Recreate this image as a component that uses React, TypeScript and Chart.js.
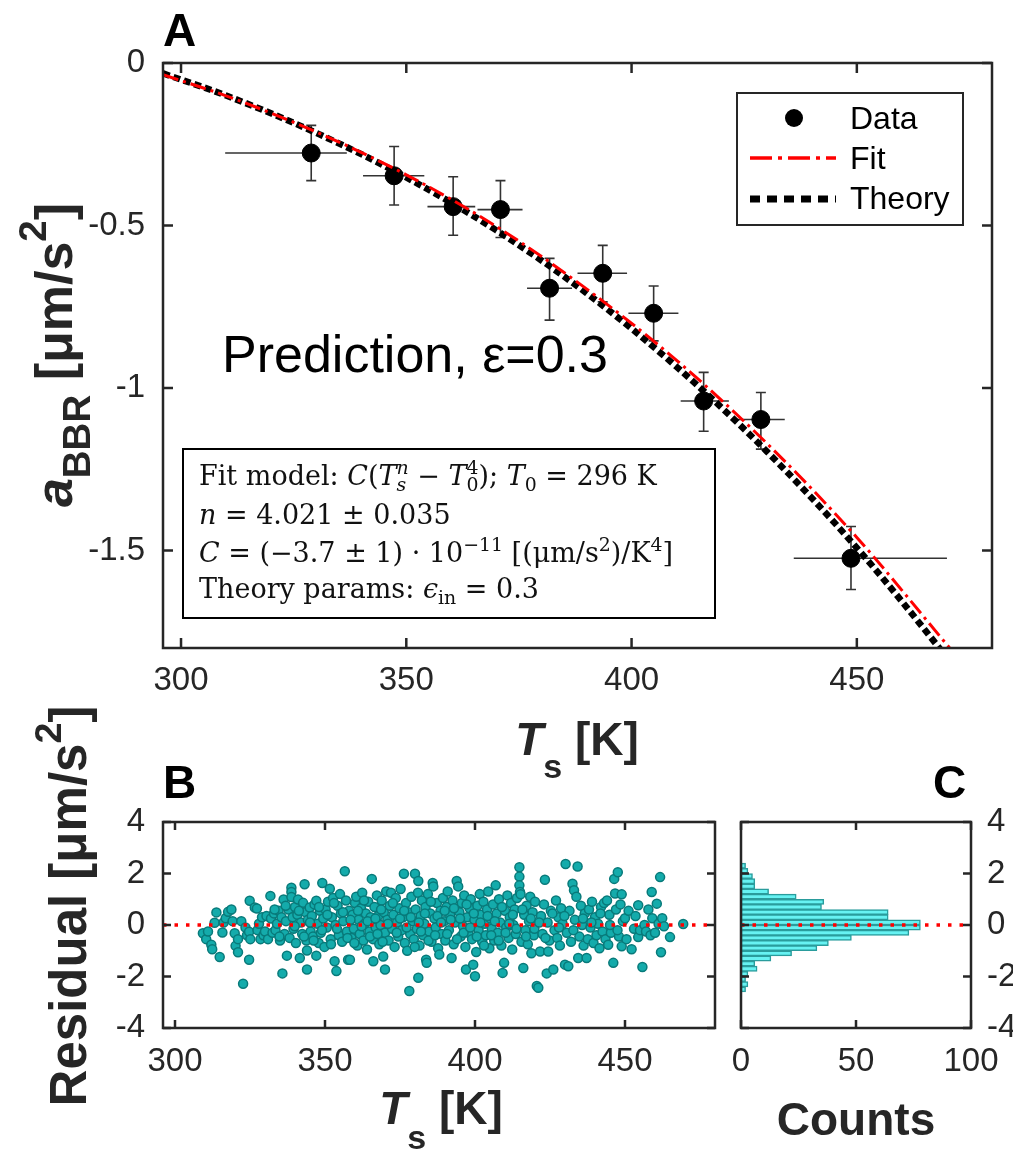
import React, { useEffect, useRef } from 'react';
import { Chart, registerables } from 'chart.js';
Chart.register(...registerables);

const W = 1013;
const H = 1159;
const SANS = '"Liberation Sans", Arial, Helvetica, sans-serif';
const SERIF = '"DejaVu Serif", "Liberation Serif", "Times New Roman", serif';
const AX = '#262626';

// ---------------- Panel A data ----------------
const dataT = [328.9, 347.3, 360.4, 370.9, 381.8, 393.6, 404.9, 416.0, 428.7, 448.7];
const dataV = [-0.277, -0.347, -0.442, -0.451, -0.693, -0.647, -0.770, -1.040, -1.097, -1.524];
const dataTLo = [309.8, 340.4, 354.7, 365.8, 376.8, 388.0, 399.3, 410.9, 423.5, 436.0];
const dataTHi = [336.8, 354.0, 365.3, 375.8, 386.8, 399.0, 410.4, 421.6, 434.0, 470.0];
const dataVLo = [-0.362, -0.437, -0.530, -0.537, -0.791, -0.735, -0.855, -1.133, -1.188, -1.620];
const dataVHi = [-0.192, -0.257, -0.350, -0.362, -0.601, -0.561, -0.686, -0.952, -1.014, -1.426];

const fitT = [296, 310, 330, 350, 370, 390, 410, 430, 450, 470, 476];
const fitV = [-0.036, -0.101, -0.212, -0.344, -0.503, -0.695, -0.915, -1.170, -1.460, -1.790, -1.89];
const theoryT = [296, 310, 330, 350, 370, 390, 410, 430, 450, 470, 476];
const theoryV = [-0.032, -0.100, -0.215, -0.352, -0.515, -0.708, -0.935, -1.195, -1.492, -1.830, -1.94];

const tickAX = [300, 350, 400, 450];
const tickAY = [-1.5, -1, -0.5, 0];

// ---------------- Panel B data ----------------
const residualPoints: [number, number][] = [
  [309.3,-0.32],[310.4,-0.55],[311.0,-0.25],[312.1,-0.77],[312.4,-0.94],[313.2,0.09],[313.8,0.49],[314.9,-1.24],[315.8,-0.29],[316.2,0.10],
  [316.9,0.26],[317.7,0.51],[318.8,0.60],[319.2,0.15],[319.9,-0.32],[320.2,-0.81],[321.0,-0.55],[321.0,-1.06],[322.1,0.15],[322.7,-2.28],
  [323.5,-0.10],[324.0,-0.40],[324.7,-1.35],[324.7,-0.26],[324.9,0.94],[325.1,-0.55],[326.6,0.68],[327.3,0.64],[327.5,-0.20],[328.0,0.05],
  [328.5,-0.55],[329.0,0.30],[329.5,-0.40],[330.0,-0.25],
  [330.5,0.35],[331.0,-0.55],[331.8,1.13],[332.0,0.25],[332.5,-0.30],[333.0,0.45],[333.5,-0.20],[334.0,0.05],[334.5,0.55],[335.0,-0.60],
  [335.5,0.30],[335.8,-1.88],[336.2,0.99],[336.5,-0.35],[337.0,0.15],[337.3,-1.19],[337.8,0.60],[338.2,-0.50],[338.8,1.45],[338.8,1.28],
  [338.8,1.09],[339.2,0.30],[339.5,-0.15],[340.0,0.70],[340.3,-0.70],[340.8,0.40],[341.0,0.99],[341.6,-1.28],[342.0,0.10],[342.4,-0.35],
  [342.7,0.86],[343.2,1.58],[343.5,0.50],[343.8,-0.60],[344.0,-0.99],[344.0,-1.73],[344.3,0.20],[344.9,0.68],[345.2,-0.25],[345.6,0.35],
  [346.0,-0.45],[346.5,0.80],[347.1,0.94],[347.1,-1.19],[347.5,0.05],[347.9,-0.70],[348.3,0.55],[348.6,-0.30],[349.1,1.63],[349.4,0.25],
  [349.8,-0.85],[350.2,0.60],[350.6,-0.10],[351.0,0.90],[351.6,1.41],[351.9,-0.55],[352.3,0.30],[352.7,1.05],[353.2,-1.41],[353.5,0.00],
  [353.8,-1.79],[354.2,0.75],[354.6,-0.40],[355.0,1.20],[355.3,0.45],[355.7,-0.65],[356.1,0.15],[356.6,2.09],[357.0,0.95],[357.3,-0.25],
  [357.7,-1.35],[358.0,0.55],
  [358.3,-1.35],[358.8,-0.50],[359.2,0.40],[359.6,-0.15],[360.0,0.85],[360.4,1.10],[360.8,-0.80],[361.2,0.20],[361.6,-0.35],[362.0,0.65],
  [362.4,1.25],[362.8,-0.60],[363.2,0.05],[363.6,0.45],[364.0,-0.95],[364.4,0.90],[364.8,-0.25],[365.2,0.30],[365.6,1.79],[366.0,-0.55],
  [366.1,-1.41],[366.5,0.70],[366.9,-0.10],[367.3,1.15],[367.7,0.35],[368.1,-0.75],[368.5,0.00],[368.9,0.95],[369.4,-1.22],[369.6,0.50],
  [370.0,-1.73],[370.0,-0.30],[370.4,1.30],[370.8,0.20],[371.2,-0.60],[371.6,0.75],[372.0,1.25],[372.4,-0.15],[372.8,0.40],[373.2,-0.85],
  [373.6,1.05],[374.0,0.10],[374.4,-0.45],[374.8,0.65],[375.2,1.40],[375.6,-0.20],[376.0,0.30],[376.3,1.99],[376.6,-0.70],[377.0,0.85],
  [377.4,-1.00],[377.8,0.50],[378.1,-2.56],[378.4,-0.35],[378.8,1.10],[379.2,0.15],[379.6,-0.55],[380.0,1.99],[380.2,0.60],[380.6,-0.15],
  [381.0,1.25],[381.1,1.71],[381.1,-2.05],[381.5,-0.80],[381.9,0.35],[382.3,0.95],[382.7,-0.40],[383.1,0.05],[383.5,0.70],[383.7,-1.35],
  [383.9,-1.47],[384.3,1.20],[384.7,-0.25],[385.1,0.45],[385.5,-0.65],[385.9,1.63],[386.1,1.50],[386.5,0.25],[386.9,-0.10],[387.3,0.85],
  [387.7,-0.90],[388.1,-1.15],[388.5,0.55],[388.9,-0.35],[389.3,1.05],[389.7,0.15],[390.1,-0.60],[390.5,0.70],[390.9,1.30],[391.3,-0.20],
  [391.7,0.40],[392.2,-1.28],[392.5,0.95],[392.9,-0.75],[393.3,0.10],[393.9,1.71],[394.4,1.50],[394.8,0.50],[395.2,-0.45],[395.6,0.85],
  [396.0,-0.05],[396.4,1.15],[396.8,-0.85],[397.0,-1.73],[397.4,0.30],[397.8,-0.30],[398.2,0.65],[398.6,1.00],[399.0,-0.55],[399.4,-1.54],
  [399.8,0.20],[400.0,-1.99],[400.4,-1.05],[400.8,0.75],[401.2,-0.20],[401.6,1.20],[402.0,0.40],[402.4,-0.65],[402.8,0.90],[403.2,0.05],
  [403.6,-0.40],[404.0,0.60],[404.4,1.30],[404.8,-0.90],[405.2,0.25],[405.6,-0.15],[406.0,0.80],[406.4,-0.60],[406.9,1.54],[407.2,0.45],
  [407.6,-0.30],[408.0,1.00],[408.4,0.10],[408.8,-0.80],[409.2,-1.86],[409.7,-1.47],[410.0,0.55],[410.4,-0.10],[410.8,1.15],[411.2,-0.50],
  [411.6,0.30],[412.0,0.85],[412.4,-0.95],[412.8,0.00],[413.2,0.60],[413.6,-0.35],[414.0,1.05],[414.8,2.24],[414.8,1.88],[414.8,1.54],
  [415.0,1.28],[415.2,1.19],[415.5,-0.65],[416.1,-1.67],[416.4,0.40],[416.8,-0.20],[417.2,0.75],[417.6,-0.75],[418.0,0.15],[418.4,1.10],
  [418.8,-1.10],[419.2,0.50],[419.6,-0.40],[420.0,0.90],[420.6,-2.37],
  [421.1,-2.44],[421.7,-1.03],[422.0,0.35],[422.5,-0.35],[423.0,0.80],[423.3,1.76],[423.9,-1.88],[424.2,0.10],[424.4,-1.03],[424.8,-0.60],
  [425.3,0.55],[426.1,-1.73],[426.5,-0.20],[427.0,0.95],[427.4,-0.50],[427.8,0.30],[428.3,-0.80],[428.7,0.65],[429.2,0.05],[430.0,-1.54],
  [430.2,2.37],[430.6,-0.30],[431.1,-1.60],[431.5,0.55],[432.0,-0.65],[432.5,1.60],[433.0,1.35],[433.3,0.20],[433.8,1.10],[434.2,2.27],
  [434.4,-1.28],[434.8,-0.45],[435.3,0.75],[435.7,0.00],[436.2,-0.80],[436.6,0.45],[437.2,-1.28],[437.6,-0.55],[438.0,0.60],[438.5,-0.10],
  [439.0,0.90],[439.5,-0.70],[440.0,0.30],[440.5,-0.40],[441.0,0.05],[441.5,-0.90],[442.0,0.70],[442.5,-0.25],[443.0,0.85],[443.5,-0.55],
  [444.0,0.95],[444.4,-0.77],[444.8,0.40],[445.3,-0.30],[446.1,-1.47],[446.4,1.79],[446.7,1.22],[447.0,0.60],[447.6,2.05],[448.0,-0.45],
  [448.5,0.80],[448.9,1.19],[448.9,-0.83],[449.3,0.15],[450.0,0.26],[450.5,-0.55],[451.2,0.55],[452.2,-0.94],[453.0,-0.15],[453.5,0.35],
  [454.4,0.77],[454.4,-0.47],[455.0,-0.20],[455.8,-1.63],[456.5,0.00],[457.0,-0.25],[457.8,0.60],[458.5,-0.40],[458.9,1.28],[459.1,0.26],
  [460.0,-0.30],[460.6,0.83],[461.2,0.05],[461.7,1.86],[462.0,-1.06],[462.4,0.26],[463.0,-0.05],[465.0,-0.47],[469.4,0.04],
  [333.2,0.60],[334.8,-0.45],[336.9,0.75],[339.9,-0.05],[341.3,0.55],[343.0,-0.45],[345.0,0.10],[346.2,-0.60],[348.0,0.70],[349.0,-0.20],
  [350.8,0.40],[352.0,-0.75],[353.0,0.85],[354.0,-0.15],[356.0,0.50],[357.5,-0.50],[358.5,0.20],[359.8,-0.70],[361.0,0.55],[362.2,-0.05],
  [363.0,0.95],[364.2,0.15],[365.0,-0.45],[366.8,0.25],[367.5,-0.35],[368.7,0.60],[369.2,-0.65],[371.0,0.05],[372.6,0.85],[373.9,-0.30],
  [375.0,0.25],[376.4,0.55],[377.2,-0.10],[378.6,0.30],[379.9,-0.85],[381.3,0.10],[382.0,-0.25],[383.3,0.45],[384.5,-0.60],[385.3,0.90],
  [386.7,-0.40],[387.5,0.35],[388.7,0.10],[389.9,0.55],[390.7,-0.35],[391.9,0.20],[393.0,0.65],[394.0,-0.55],[395.0,0.25],[396.2,-0.30],
  [397.2,0.80],[398.4,-0.10],[399.6,0.45],[400.6,-0.45],[401.8,0.10],[403.0,-0.80],[404.2,0.35],[405.4,-0.40],[406.6,0.15],[407.9,-0.60],
  [409.0,0.70],[410.2,-0.30],[411.4,0.05],[412.6,0.40],[413.8,-0.15],[415.8,0.60],[417.0,-0.45],[418.6,0.25],[419.8,-0.15],[421.4,0.10],
  [423.5,-0.50],[425.8,0.45],[428.0,-0.10],[429.8,0.35],[432.8,-0.20],[436.0,0.25],[438.8,0.10],[441.8,0.45],[445.0,0.00],[447.5,-0.20],
];
const zeroLineT = [296, 480];
const tickBX = [300, 350, 400, 450];
const tickBY = [-4, -2, 0, 2, 4];

// ---------------- Panel C data ----------------
const histCenters = [2.3, 2.1, 1.9, 1.7, 1.5, 1.3, 1.1, 0.9, 0.7, 0.5, 0.3, 0.1, -0.1, -0.3, -0.5, -0.7, -0.9, -1.1, -1.3, -1.5, -1.7, -1.9, -2.1, -2.3, -2.5];
const histCounts = [2, 3, 5, 6, 6, 12, 24, 36, 35, 64, 64, 78, 78, 73, 48, 38, 33, 22, 13, 6, 7, 3, 2, 3, 2];
const zeroLineCounts = [0, 100];
const tickCX = [0, 50, 100];

// ---------------- helpers ----------------
type Seg = { t: string; i?: boolean; sub?: string; sup?: string; subI?: boolean; supI?: boolean };
type RichOpts = { size: number; family: string; bold?: boolean; align?: 'left' | 'center'; rotate?: boolean; subScale?: number; subDy?: number; supDy?: number; color?: string };

function drawRich(ctx: CanvasRenderingContext2D, segs: Seg[], x: number, y: number, o: RichOpts) {
  const sc = o.subScale ?? 0.7;
  const small = o.size * sc;
  const f = (sz: number, it?: boolean) => `${it ? 'italic ' : ''}${o.bold ? 'bold ' : ''}${sz}px ${o.family}`;
  const widths: number[][] = [];
  let total = 0;
  for (const s of segs) {
    ctx.font = f(o.size, s.i);
    const w = ctx.measureText(s.t).width;
    let ws = 0, wp = 0;
    if (s.sub) { ctx.font = f(small, s.subI); ws = ctx.measureText(s.sub).width; }
    if (s.sup) { ctx.font = f(small, s.supI); wp = ctx.measureText(s.sup).width; }
    widths.push([w, Math.max(ws, wp)]);
    total += w + Math.max(ws, wp);
  }
  ctx.save();
  ctx.translate(x, y);
  if (o.rotate) ctx.rotate(-Math.PI / 2);
  ctx.fillStyle = o.color ?? '#000';
  ctx.textAlign = 'left';
  ctx.textBaseline = 'alphabetic';
  let cx = o.align === 'center' ? -total / 2 : 0;
  const subDy = (o.subDy ?? 0.22) * o.size;
  const supDy = (o.supDy ?? -0.42) * o.size;
  segs.forEach((s, k) => {
    const [w, ex] = widths[k];
    ctx.font = f(o.size, s.i);
    ctx.fillText(s.t, cx, 0);
    if (s.sub) { ctx.font = f(small, s.subI); ctx.fillText(s.sub, cx + w, subDy); }
    if (s.sup) { ctx.font = f(small, s.supI); ctx.fillText(s.sup, cx + w, supDy); }
    cx += w + ex;
  });
  ctx.restore();
}

function boxTicks(chart: Chart, len: number, lw: number) {
  const { ctx, chartArea: a } = chart;
  const sx: any = chart.scales.x;
  const sy: any = chart.scales.y;
  ctx.save();
  ctx.strokeStyle = AX;
  ctx.lineWidth = lw;
  ctx.setLineDash([]);
  ctx.beginPath();
  for (const t of sx.ticks) {
    const p = sx.getPixelForValue(t.value);
    ctx.moveTo(p, a.bottom); ctx.lineTo(p, a.bottom - len);
    ctx.moveTo(p, a.top); ctx.lineTo(p, a.top + len);
  }
  for (const t of sy.ticks) {
    const p = sy.getPixelForValue(t.value);
    ctx.moveTo(a.left, p); ctx.lineTo(a.left + len, p);
    ctx.moveTo(a.right, p); ctx.lineTo(a.right - len, p);
  }
  ctx.stroke();
  ctx.strokeRect(a.left, a.top, a.right - a.left, a.bottom - a.top);
  ctx.restore();
}

const tickFont = { family: SANS, size: 33 };
const pts = (xs: number[], ys: number[]) => xs.map((x, i) => ({ x, y: ys[i] }));

function xScale(min: number, max: number, ticks: number[], height: number, pad: number): any {
  return {
    type: 'linear', min, max,
    afterBuildTicks: (s: any) => { s.ticks = ticks.map((v) => ({ value: v })); },
    afterFit: (s: any) => { s.height = height; },
    grid: { display: false }, border: { display: false },
    ticks: { font: tickFont, color: AX, padding: pad, maxRotation: 0, autoSkip: false, callback: (v: any) => String(v) },
  };
}
function yScale(min: number, max: number, ticks: number[], width: number, pad: number, position = 'left'): any {
  return {
    type: 'linear', min, max, position, offset: false,
    afterBuildTicks: (s: any) => { s.ticks = ticks.map((v) => ({ value: v })); },
    afterFit: (s: any) => { s.width = width; },
    grid: { display: false, offset: false }, border: { display: false },
    ticks: { font: tickFont, color: AX, padding: pad, autoSkip: false, callback: (v: any) => String(v) },
  };
}

// ---------------- Panel A ----------------
function makeA(cv: HTMLCanvasElement) {
  const errPlugin = {
    id: 'errA',
    beforeDatasetsDraw(chart: any) {
      const { ctx } = chart;
      const x = chart.scales.x, y = chart.scales.y;
      ctx.save();
      ctx.strokeStyle = '#333';
      ctx.lineWidth = 1.6;
      ctx.beginPath();
      dataT.forEach((t, i) => {
        const px = x.getPixelForValue(t), py = y.getPixelForValue(dataV[i]);
        const x0 = x.getPixelForValue(dataTLo[i]), x1 = x.getPixelForValue(dataTHi[i]);
        const y0 = y.getPixelForValue(dataVLo[i]), y1 = y.getPixelForValue(dataVHi[i]);
        ctx.moveTo(x0, py); ctx.lineTo(x1, py);
        ctx.moveTo(px, y0); ctx.lineTo(px, y1);
        ctx.moveTo(px - 5, y0); ctx.lineTo(px + 5, y0);
        ctx.moveTo(px - 5, y1); ctx.lineTo(px + 5, y1);
      });
      ctx.stroke();
      ctx.restore();
    },
  };
  const deco = {
    id: 'decoA',
    afterDraw(chart: any) {
      const { ctx } = chart;
      boxTicks(chart, 10, 2.5);
      ctx.save();
      ctx.fillStyle = '#000';
      ctx.font = `bold 46px ${SANS}`;
      ctx.textBaseline = 'alphabetic';
      ctx.fillText('A', 163, 46);
      ctx.font = `52px ${SANS}`;
      ctx.fillText('Prediction, ε=0.3', 222, 372);
      ctx.restore();
      drawRich(ctx, [{ t: 'T', i: true, sub: 's' }, { t: ' [K]' }], 577, 755, { size: 46, family: SANS, bold: true, align: 'center', subDy: 0.5, subScale: 0.74, color: '#262626' });
      drawRich(ctx, [{ t: 'a', i: true, sub: 'BBR' }, { t: ' [μm/s', sup: '2' }, { t: ']' }], 72, 355, { size: 52, family: SANS, bold: true, align: 'center', rotate: true, subDy: 0.35, supDy: -0.5, subScale: 0.74, color: '#262626' });
      // legend
      ctx.save();
      ctx.fillStyle = '#fff';
      ctx.fillRect(737, 93, 226, 132);
      ctx.strokeStyle = AX; ctx.lineWidth = 2;
      ctx.strokeRect(737, 93, 226, 132);
      ctx.fillStyle = '#000';
      ctx.beginPath(); ctx.arc(794, 118, 9, 0, Math.PI * 2); ctx.fill();
      ctx.strokeStyle = '#ff0000'; ctx.lineWidth = 3.5; ctx.setLineDash([22, 6, 4, 6]);
      ctx.beginPath(); ctx.moveTo(750, 158); ctx.lineTo(836, 158); ctx.stroke();
      ctx.strokeStyle = '#000'; ctx.lineWidth = 7; ctx.setLineDash([10, 7]);
      ctx.beginPath(); ctx.moveTo(750, 199); ctx.lineTo(836, 199); ctx.stroke();
      ctx.setLineDash([]);
      ctx.fillStyle = '#000';
      ctx.font = `32px ${SANS}`;
      ctx.textBaseline = 'middle';
      ctx.fillText('Data', 850, 120);
      ctx.fillText('Fit', 850, 160);
      ctx.fillText('Theory', 850, 200);
      // annotation box
      ctx.fillStyle = '#fff';
      ctx.fillRect(183, 449, 532, 169);
      ctx.strokeStyle = '#000'; ctx.lineWidth = 2;
      ctx.strokeRect(183, 449, 532, 169);
      ctx.restore();
      const ao: RichOpts = { size: 27, family: SERIF, align: 'left', color: '#111', subDy: 0.22, supDy: -0.42 };
      drawRich(ctx, [{ t: 'Fit model: ' }, { t: 'C', i: true }, { t: '(' }, { t: 'T', i: true, sub: 's', subI: true, sup: 'n', supI: true }, { t: ' − ' }, { t: 'T', i: true, sub: '0', sup: '4' }, { t: '); ' }, { t: 'T', i: true, sub: '0' }, { t: ' = 296 K' }], 199, 485, ao);
      drawRich(ctx, [{ t: 'n', i: true }, { t: ' = 4.021 ± 0.035' }], 199, 524, ao);
      drawRich(ctx, [{ t: 'C', i: true }, { t: ' = (−3.7 ± 1) · 10', sup: '−11' }, { t: ' [(μm/s', sup: '2' }, { t: ')/K', sup: '4' }, { t: ']' }], 199, 562, ao);
      drawRich(ctx, [{ t: 'Theory params: ' }, { t: 'ϵ', i: true, sub: 'in' }, { t: ' = 0.3' }], 199, 598, ao);
    },
  };
  return new Chart(cv, {
    type: 'scatter',
    data: {
      datasets: [
        { type: 'line', label: 'Fit', data: pts(fitT, fitV), borderColor: '#ff0000', borderWidth: 3, borderDash: [16, 5, 3, 5], pointRadius: 0, cubicInterpolationMode: 'monotone', fill: false, order: 0 } as any,
        { type: 'line', label: 'Theory', data: pts(theoryT, theoryV), borderColor: '#000', borderWidth: 6.5, borderDash: [7, 4], pointRadius: 0, cubicInterpolationMode: 'monotone', fill: false, order: 1 } as any,
        { type: 'scatter', label: 'Data', data: pts(dataT, dataV), pointRadius: 9, pointBackgroundColor: '#000', pointBorderColor: '#000', pointBorderWidth: 1, order: 2 } as any,
      ],
    },
    options: {
      responsive: false, animation: false, events: [],
      layout: { padding: { left: 0, top: 63, right: W - 992, bottom: 0 } },
      scales: {
        x: xScale(296, 480, tickAX, H - 648, 5),
        y: yScale(-1.8, 0, tickAY, 163, 10),
      },
      plugins: { legend: { display: false }, tooltip: { enabled: false } },
    } as any,
    plugins: [errPlugin, deco],
  });
}

// ---------------- Panel B ----------------
function makeB(cv: HTMLCanvasElement) {
  const deco = {
    id: 'decoB',
    afterDraw(chart: any) {
      const { ctx } = chart;
      boxTicks(chart, 8, 2.5);
      ctx.save();
      ctx.fillStyle = '#000';
      ctx.font = `bold 46px ${SANS}`;
      ctx.textBaseline = 'alphabetic';
      ctx.fillText('B', 163, 798);
      ctx.restore();
      drawRich(ctx, [{ t: 'T', i: true, sub: 's' }, { t: ' [K]' }], 441, 1124, { size: 46, family: SANS, bold: true, align: 'center', subDy: 0.55, subScale: 0.74, color: '#262626' });
      drawRich(ctx, [{ t: 'Residual [μm/s', sup: '2' }, { t: ']' }], 86, 906, { size: 51, family: SANS, bold: true, align: 'center', rotate: true, supDy: -0.5, subScale: 0.74, color: '#262626' });
    },
  };
  return new Chart(cv, {
    type: 'scatter',
    data: {
      datasets: [
        { type: 'line', data: pts(zeroLineT, [0, 0]), borderColor: '#ff0000', borderWidth: 3.5, borderDash: [3.5, 8], pointRadius: 0, fill: false, order: 0 } as any,
        { type: 'scatter', data: residualPoints.map(([x, y]) => ({ x, y })), pointRadius: 4.5, pointBackgroundColor: '#14abab', pointBorderColor: '#087a7a', pointBorderWidth: 1.5, order: 1 } as any,
      ],
    },
    options: {
      responsive: false, animation: false, events: [],
      layout: { padding: { left: 0, top: 822, right: W - 715, bottom: 0 } },
      scales: {
        x: xScale(296, 480, tickBX, H - 1028, 6),
        y: yScale(-4, 4, tickBY, 163, 10),
      },
      plugins: { legend: { display: false }, tooltip: { enabled: false } },
    } as any,
    plugins: [deco],
  });
}

// ---------------- Panel C ----------------
function makeC(cv: HTMLCanvasElement) {
  const deco = {
    id: 'decoC',
    afterDraw(chart: any) {
      const { ctx } = chart;
      boxTicks(chart, 8, 2.5);
      ctx.save();
      ctx.fillStyle = '#000';
      ctx.font = `bold 46px ${SANS}`;
      ctx.textBaseline = 'alphabetic';
      ctx.fillText('C', 933, 798);
      ctx.fillStyle = '#262626';
      ctx.textAlign = 'center';
      ctx.fillText('Counts', 856, 1135);
      ctx.restore();
    },
  };
  return new Chart(cv, {
    type: 'bar',
    data: {
      datasets: [
        { type: 'line', data: pts(zeroLineCounts, [0, 0]), borderColor: '#ff0000', borderWidth: 3.5, borderDash: [3.5, 8], pointRadius: 0, fill: false, order: 0 } as any,
        { type: 'bar', data: histCounts.map((c, i) => ({ x: c, y: histCenters[i] })), backgroundColor: '#66f2f2', borderColor: '#2a9c9c', borderWidth: 1.5, borderSkipped: false, barPercentage: 1, categoryPercentage: 1, order: 1 } as any,
      ],
    },
    options: {
      indexAxis: 'y',
      responsive: false, animation: false, events: [],
      layout: { padding: { left: 741, top: 822, right: 0, bottom: 0 } },
      scales: {
        x: xScale(0, 100, tickCX, H - 1028, 6),
        y: yScale(-4, 4, tickBY, W - 971, 8, 'right'),
      },
      plugins: { legend: { display: false }, tooltip: { enabled: false } },
    } as any,
    plugins: [deco],
  });
}

export default function App() {
  const ra = useRef<HTMLCanvasElement>(null);
  const rb = useRef<HTMLCanvasElement>(null);
  const rc = useRef<HTMLCanvasElement>(null);
  useEffect(() => {
    const charts = [makeA(ra.current!), makeB(rb.current!), makeC(rc.current!)];
    return () => charts.forEach((c) => c.destroy());
  }, []);
  const st: React.CSSProperties = { position: 'absolute', left: 0, top: 0, width: W, height: H };
  return (
    <div style={{ position: 'absolute', left: 0, top: 0, width: W, height: H, background: '#fff', overflow: 'hidden' }}>
      <canvas ref={ra} width={W} height={H} style={st} />
      <canvas ref={rb} width={W} height={H} style={st} />
      <canvas ref={rc} width={W} height={H} style={st} />
    </div>
  );
}
